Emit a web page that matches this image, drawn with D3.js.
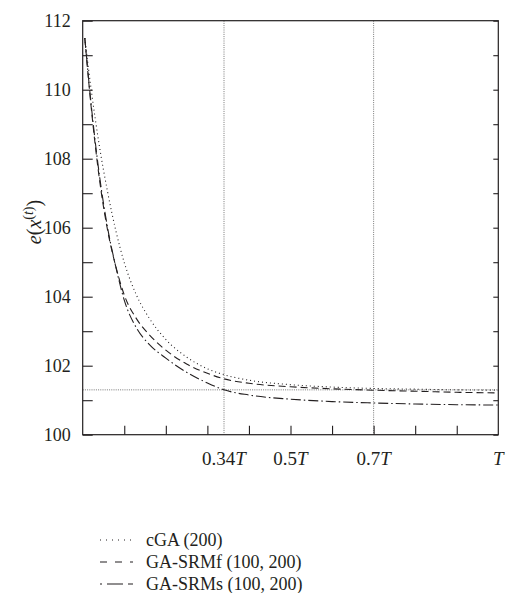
<!DOCTYPE html>
<html><head><meta charset="utf-8">
<script src="https://cdn.jsdelivr.net/npm/d3@7"></script>
<style>
body{margin:0;background:#fff;}
text{font-family:"Liberation Serif","DejaVu Serif",serif;fill:#231f20;}
</style></head>
<body><svg id="c" width="505" height="593"></svg>
<script>
const tValues = [0.005,0.02,0.04,0.06,0.08,0.10,0.13,0.16,0.20,0.25,0.30,0.34,0.40,0.50,0.60,0.70,0.80,0.90,1.0];
const cGA     = [111.5,110.04,108.38,107.03,105.90,104.99,104.03,103.38,102.76,102.25,101.91,101.74,101.58,101.45,101.38,101.34,101.32,101.30,101.29];
const gaSRMf  = [111.5,109.54,107.43,105.92,104.86,104.05,103.35,102.90,102.45,102.05,101.78,101.62,101.49,101.39,101.33,101.29,101.26,101.23,101.21];
const gaSRMs  = [111.5,109.61,107.54,105.99,104.85,103.90,103.08,102.62,102.22,101.81,101.50,101.30,101.15,101.03,100.96,100.92,100.89,100.87,100.86];
const seriesNames = ["cGA (200)","GA-SRMf (100, 200)","GA-SRMs (100, 200)"];
const yTicks = [100,101,102,103,104,105,106,107,108,109,110,111,112];
const yLabels = [100,102,104,106,108,110,112];
const xMinorTicks = [0.1,0.2,0.3,0.4,0.5,0.6,0.7,0.8,0.9];
const xLabelTicks = [0.34,0.5,0.7,1];
const xLabelText = ["0.34","0.5","0.7",""];
const refVertical = [0.34,0.7];
const refHorizontal = 101.3;

const svg = d3.select("#c");
const L=82.7,R=498.3,T=20.7,B=434.7;
const x = d3.scaleLinear().domain([0,1]).range([L,R]);
const y = d3.scaleLinear().domain([100,112]).range([B,T]);
const ink="#231f20";

// reference dotted lines
const g0 = svg.append("g").attr("stroke","#555").attr("stroke-width",0.8).attr("stroke-dasharray","1,1.2");
refVertical.forEach(v=>g0.append("line").attr("x1",x(v)).attr("x2",x(v)).attr("y1",T).attr("y2",B));
g0.append("line").attr("x1",L).attr("x2",R).attr("y1",y(refHorizontal)).attr("y2",y(refHorizontal));

// axes
const axL = svg.append("g").attr("transform",`translate(${L},0)`)
  .call(d3.axisLeft(y).tickValues(yTicks).tickSize(-10).tickPadding(12)
  .tickFormat(d=>yLabels.includes(d)?d:""));
const axR = svg.append("g").attr("transform",`translate(${R},0)`)
  .call(d3.axisRight(y).tickValues(yTicks).tickSize(-5).tickFormat(""));
const axB = svg.append("g").attr("transform",`translate(0,${B})`)
  .call(d3.axisBottom(x).tickValues(xMinorTicks).tickSize(-9).tickFormat(""));
[axL,axR,axB].forEach(a=>{a.select(".domain").remove();a.selectAll("line").attr("stroke",ink).attr("stroke-width",1.1);});
axL.selectAll("text").attr("font-size",18).attr("font-family","Liberation Serif").attr("fill",ink);
svg.append("rect").attr("x",L).attr("y",T).attr("width",R-L).attr("height",B-T)
  .attr("fill","none").attr("stroke",ink).attr("stroke-width",1.2);

// x labels
xLabelTicks.forEach((v,i)=>{
  const t=svg.append("text").attr("x",x(v)).attr("y",465).attr("text-anchor","middle").attr("font-size",19);
  t.append("tspan").text(xLabelText[i]);
  t.append("tspan").attr("font-style","italic").text("T");
});

// y label
const yl = svg.append("text").attr("transform","translate(41,222) rotate(-90)").attr("text-anchor","middle").attr("font-size",20);
yl.append("tspan").attr("font-style","italic").text("e");
yl.append("tspan").text("(");
yl.append("tspan").attr("font-style","italic").text("x");
yl.append("tspan").attr("dy",-8).attr("font-size",14).text("(");
yl.append("tspan").attr("font-size",14).attr("font-style","italic").text("t");
yl.append("tspan").attr("font-size",14).text(")");
yl.append("tspan").attr("dy",8).text(")");

// curves
const styles = ["1,3","7,4","10,3,1.5,3"];
const data = [cGA,gaSRMf,gaSRMs];
const line = d3.line().x(d=>x(d[0])).y(d=>y(d[1])).curve(d3.curveMonotoneX);
data.forEach((s,i)=>{
  svg.append("path").datum(tValues.map((t,j)=>[t,s[j]])).attr("d",line)
    .attr("fill","none").attr("stroke",ink).attr("stroke-width",1.1).attr("stroke-dasharray",styles[i]);
});

// legend
const legY=[540,562,584];
const legDash=["1,5","7,8","2,5,14,0"];
seriesNames.forEach((n,i)=>{
  svg.append("line").attr("x1",100).attr("x2",133).attr("y1",legY[i]).attr("y2",legY[i])
    .attr("stroke",ink).attr("stroke-width",1.1).attr("stroke-dasharray",legDash[i]);
  svg.append("text").attr("x",146).attr("y",legY[i]).attr("dy","0.33em").attr("font-size",18).text(n);
});
</script></body></html>
